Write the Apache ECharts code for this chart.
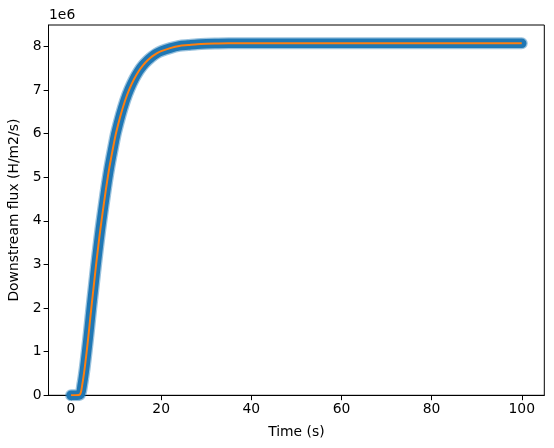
<!DOCTYPE html>
<html>
<head>
<meta charset="utf-8">
<script src="https://cdn.jsdelivr.net/npm/echarts@6/dist/echarts.min.js"></script>
<style>
  html, body { margin: 0; padding: 0; background: #fff; }
  #chart { width: 554px; height: 448px; }
</style>
</head>
<body>
<div id="chart"></div>
<script>
// time (s)
var times = [0, 1, 2, 2.5, 3, 3.5, 4, 4.5, 5, 5.5, 6, 6.5, 7, 7.5, 8, 8.5, 9, 9.5, 10, 11, 12, 13, 14, 15, 16, 17, 18, 19, 20, 22, 24, 26, 28, 30, 32, 35, 40, 50, 60, 70, 80, 90, 100];
// downstream flux, in 1e6 H/m2/s
var flux = [0, 0, 0.02, 0.25, 0.6, 1.03, 1.5, 2.0, 2.47, 2.94, 3.38, 3.8, 4.18, 4.55, 4.9, 5.22, 5.5, 5.77, 6.02, 6.42, 6.76, 7.03, 7.25, 7.43, 7.57, 7.68, 7.77, 7.84, 7.89, 7.96, 8.01, 8.03, 8.05, 8.06, 8.065, 8.07, 8.07, 8.07, 8.07, 8.07, 8.07, 8.07, 8.07];
var xTicks = [0, 20, 40, 60, 80, 100];
var yTicks = [0, 1, 2, 3, 4, 5, 6, 7, 8];

var points = times.map(function (t, i) { return [t, flux[i]]; });

var chartDom = document.getElementById("chart");
var myChart = echarts.init(chartDom);
var font = "DejaVu Sans";

var option = {
  backgroundColor: "#ffffff",
  animation: false,
  grid: {
    left: 48.5,
    right: 9.7,
    top: 25,
    bottom: 52.7,
    containLabel: false,
    outerBoundsMode: "none",
    show: true,
    borderColor: "#000",
    borderWidth: 1,
  },
  xAxis: {
    type: "value",
    min: -5,
    max: 105,
    name: "Time (s)",
    nameLocation: "middle",
    nameGap: 30,
    nameTextStyle: { fontFamily: font, fontSize: 13.9, color: "#000" },
    axisLine: { show: true, onZero: false, lineStyle: { color: "#000", width: 1 } },
    axisTick: { show: true, length: 4.9, lineStyle: { color: "#000" }, customValues: xTicks },
    axisLabel: { fontFamily: font, fontSize: 13.9, color: "#000", margin: 7, customValues: xTicks },
    splitLine: { show: false },
  },
  yAxis: {
    type: "value",
    min: 0,
    max: 8.49,
    name: "Downstream flux (H/m2/s)",
    nameLocation: "middle",
    nameGap: 24,
    nameTextStyle: { fontFamily: font, fontSize: 13.9, color: "#000" },
    axisLine: { show: true, onZero: false, lineStyle: { color: "#000", width: 1 } },
    axisTick: { show: true, length: 4.9, lineStyle: { color: "#000" }, customValues: yTicks },
    axisLabel: { fontFamily: font, fontSize: 13.9, color: "#000", margin: 7, customValues: yTicks },
    splitLine: { show: false },
  },
  graphic: [
    {
      type: "text",
      left: 49,
      top: 8,
      style: { text: "1e6", font: "13.9px 'DejaVu Sans'", fill: "#000" },
    },
  ],
  series: [
    {
      // soft edge of the marker band
      type: "line",
      data: points,
      showSymbol: false,
      smooth: 0.3,
      lineStyle: { color: "#1f77b4", width: 12, opacity: 0.45, cap: "round", join: "round" },
      z: 1,
    },
    {
      type: "line",
      data: points,
      showSymbol: false,
      smooth: 0.3,
      lineStyle: { color: "#1f77b4", width: 9.5, cap: "round", join: "round" },
      z: 2,
    },
    {
      type: "line",
      data: points,
      showSymbol: false,
      smooth: 0.3,
      lineStyle: { color: "#ff7f0e", width: 2 },
      z: 3,
    },
  ],
};
myChart.setOption(option);
</script>
</body>
</html>
